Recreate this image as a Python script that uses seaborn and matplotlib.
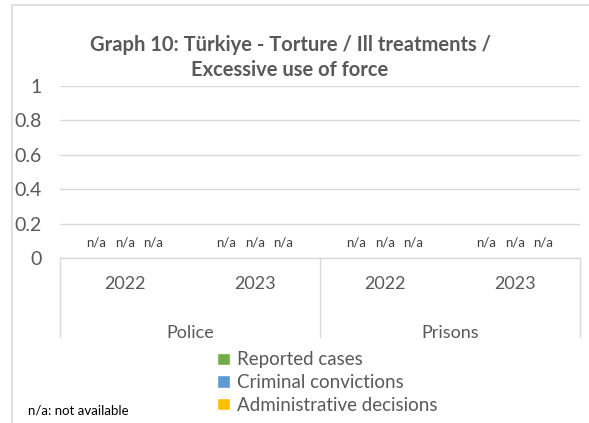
import numpy as np
import pandas as pd
import matplotlib.pyplot as plt
import matplotlib.patches as mpatches
import seaborn as sns

# 데이터
groups = ['Police', 'Police', 'Prisons', 'Prisons']
years = ['2022', '2023', '2022', '2023']
series = ['Reported cases', 'Criminal convictions', 'Administrative decisions']
# n/a -> 높이 0으로 표시
reported_cases = [0, 0, 0, 0]
criminal_convictions = [0, 0, 0, 0]
administrative_decisions = [0, 0, 0, 0]
value_labels = ['n/a', 'n/a', 'n/a', 'n/a']
y_ticks = [0, 0.2, 0.4, 0.6, 0.8, 1]

colors = ['#70AD47', '#5B9BD5', '#FFC000']
txt_color = '#595959'
grid_color = '#D9D9D9'

rows = []
for s, vals in zip(series, [reported_cases, criminal_convictions, administrative_decisions]):
    for g, yr, v in zip(groups, years, vals):
        rows.append({'cat': g + ' ' + yr, 'group': g, 'year': yr, 'series': s, 'value': v})
df = pd.DataFrame(rows)

sns.set_style('white')
plt.rcParams['font.family'] = ['Lato', 'DejaVu Sans']

fig = plt.figure(figsize=(5.89, 4.23), dpi=100)
ax = fig.add_axes([60 / 589, 1 - 258 / 423, 520 / 589, 172 / 423])

sns.barplot(data=df, x='cat', y='value', hue='series', palette=colors,
            width=0.66, errorbar=None, saturation=1, ax=ax, legend=True)

# n/a 라벨
for cont in ax.containers:
    ax.bar_label(cont, labels=value_labels, padding=7, fontsize=9.5, color='#404040')

ax.set_ylim(0, 1)
ax.set_xlim(-0.5, 3.5)
ax.set_yticks(y_ticks)
ax.set_yticklabels(['0', '0.2', '0.4', '0.6', '0.8', '1'], fontsize=14, color=txt_color)
ax.tick_params(axis='y', length=0, pad=13)
ax.grid(axis='y', color=grid_color, linewidth=1)
ax.set_axisbelow(True)

ax.set_xticks(range(len(years)))
ax.set_xticklabels(years, fontsize=13, color=txt_color)
ax.tick_params(axis='x', length=0, pad=13)
ax.set_xlabel('')
ax.set_ylabel('')

for side in ['top', 'right', 'left']:
    ax.spines[side].set_visible(False)
ax.spines['bottom'].set_color(grid_color)
ax.spines['bottom'].set_linewidth(1)

# 그룹 구분선과 그룹 라벨
trans = ax.get_xaxis_transform()
for xpos in [-0.5, 1.5, 3.5]:
    ax.plot([xpos, xpos], [0, -79 / 172], transform=trans, color=grid_color,
            linewidth=1, clip_on=False)
for xpos, name in [(0.5, 'Police'), (2.5, 'Prisons')]:
    ax.text(xpos, -75 / 172, name, transform=trans, ha='center', va='center',
            fontsize=13, color=txt_color)

# 범례
handles, labels = ax.get_legend_handles_labels()
ax.legend_.remove()
fig.legend(handles, labels, loc='upper left', bbox_to_anchor=(208 / 589, 1 - 342 / 423),
           frameon=False, fontsize=13.5, handlelength=0.65, handleheight=0.65,
           handletextpad=0.4, labelspacing=0.3, borderpad=0, labelcolor=txt_color)

# 제목
fig.text(290 / 589, 1 - 57.5 / 423,
         'Graph 10: Türkiye - Torture / Ill treatments /\nExcessive use of force',
         ha='center', va='center', fontsize=14.5, fontweight='bold',
         color=txt_color, linespacing=1.3)

# 주석
fig.text(28 / 589, 1 - 410 / 423, 'n/a: not available', ha='left', va='center',
         fontsize=9.5, color='black')

# 차트 테두리
fig.patches.append(mpatches.Rectangle((12 / 589, -0.1), 1.2, 1.1 - 5 / 423,
                                      transform=fig.transFigure, fill=False,
                                      edgecolor=grid_color, linewidth=1.2))

fig.savefig('out.png', dpi=100)
